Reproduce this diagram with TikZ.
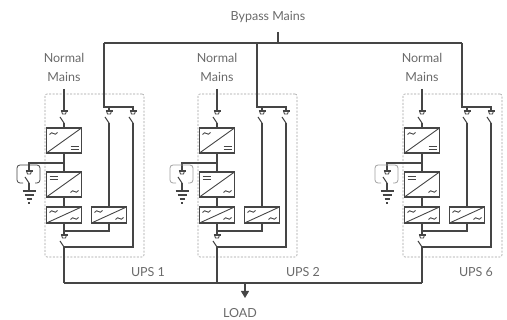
\documentclass[tikz,border=0pt]{standalone}
\usepackage{fontspec}
\setmainfont{Lato}
\usetikzlibrary{positioning}
\usetikzlibrary{calc}
\usetikzlibrary{arrows.meta}
\definecolor{wirec}{HTML}{454545}
\definecolor{txtc}{HTML}{6A6A6A}
\definecolor{framec}{HTML}{A0A0A0}
\newcommand{\acsym}[1]{\draw[symline] ($(#1)+(-4,1)$) .. controls +(3,-5) and +(-3,5) .. ($(#1)+(4,-1)$);}
\newcommand{\dcsym}[1]{\draw[symline] ($(#1)+(-4,-1.5)$) -- ++(8,0) ($(#1)+(-4,1.5)$) -- ++(8,0);}
\newcommand{\convsym}[3]{%
  \draw[symline] (path picture bounding box.south west) -- (path picture bounding box.north east);
  \coordinate (pa) at ($(path picture bounding box.north west)+(7,#3)$);
  \coordinate (pb) at ($(path picture bounding box.south east)+(-7,-#3)$);
  #1{pa} #2{pb}}
\tikzset{wire/.style={draw=wirec, line width=1.1pt}}
\tikzset{symline/.style={draw=wirec, line width=0.9pt}}
\tikzset{conv/.style={draw=wirec, line width=1.1pt, minimum width=35pt, minimum height=25pt, inner sep=0pt, outer sep=0pt}}
\tikzset{acdc/.style={conv, path picture={\convsym{\acsym}{\dcsym}{5.5}}}}
\tikzset{dcac/.style={conv, path picture={\convsym{\dcsym}{\acsym}{5.5}}}}
\tikzset{acac/.style={conv, minimum height=16pt, path picture={\convsym{\acsym}{\acsym}{4.5}}}}
\tikzset{unitbox/.style={draw=framec, dash pattern=on 2pt off 1.5pt, rounded corners=2pt, line width=0.6pt, minimum width=99pt, minimum height=163pt, inner sep=0pt}}
\tikzset{lbl/.style={text=txtc, font=\fontsize{12.5}{19}\selectfont, align=center, inner sep=1pt}}
\tikzset{brk/.pic={
  \draw[wire] (-3.5,0) -- (3.5,0);
  \draw[wire, line width=0.8pt] (-2.5,0) -- (-1.5,3) -- (1.5,3) -- (2.5,0);
  \draw[wire] (-4,6) -- (0,12);
}}
\tikzset{earth/.pic={
  \draw[wire] (-6.5,0) -- (6.5,0);
  \draw[wire] (-4.5,4) -- (4.5,4);
  \draw[wire] (-2.5,8) -- (2.5,8);
  \draw[wire] (-1,12) -- (1,12);
}}

\begin{document}
\begin{tikzpicture}[x=1pt, y=-1pt]
\useasboundingbox (0,0) rectangle (507,320);

\foreach \n/\o/\lx/\bc in {1/0/148/wirec, 2/153/150/framec, 6/358/118/framec}{
\begin{scope}[xshift=\o]
\node[unitbox] (box\n) at (94.5,175.5) {};
\node[lbl] (nm\n) at (64,67) {Normal\\Mains};
\node[lbl] (ul\n) at (\lx,272) {UPS \n};
\node[acdc] (rec\n) at (64,140.5) {};
\node[dcac, below=19pt of rec\n] (inv\n) {};
\node[acac, below=10pt of inv\n] (sts\n) {};
\node[acac, right=10pt of sts\n] (byc\n) {};

\coordinate (ni\n) at (64,89);
\coordinate (si\n) at (64,111);
\coordinate (sib\n) at (64,123);
\coordinate (bd\n) at (104,43);
\coordinate (bh\n) at (104,107);
\coordinate (ba\n) at (109,111);
\coordinate (bab\n) at (109,123);
\coordinate (bb\n) at (133,111);
\coordinate (bbb\n) at (133,123);
\coordinate (bat\n) at (64,163);
\coordinate (bk\n) at (29,171);
\coordinate (bkb\n) at (29,183);
\coordinate (gnd\n) at (29,191);
\coordinate (jo\n) at (64,231);
\coordinate (so\n) at (64,235);
\coordinate (sob\n) at (64,247);
\coordinate (out\n) at (64,283);

\draw[wire] (ni\n) -- (si\n);
\pic at (si\n) {brk};
\draw[wire] (sib\n) -- (rec\n);
\draw[wire] (rec\n) -- (inv\n);
\draw[wire] (inv\n) -- (sts\n);
% battery
\draw[wire] (bat\n) -| (bk\n);
\pic at (bk\n) {brk};
\draw[wire] (bkb\n) -- (gnd\n);
\pic at (gnd\n) {earth};
\draw[draw=\bc, line width=0.8pt, rounded corners=3pt] (23,183) -- (17,183) -- (17,165) -- (40,165) -- (40,183) -- (35,183);
% bypass
\draw[wire] (bd\n) -- (bh\n) -- (bh\n -| bb\n) -- (bb\n);
\draw[wire] (bh\n -| ba\n) -- (ba\n);
\pic at (ba\n) {brk};
\pic at (bb\n) {brk};
\draw[wire] (bab\n) -- (byc\n);
\draw[wire] (bbb\n) |- (sob\n);
% output
\draw[wire] (sts\n) -- (jo\n) -- (jo\n -| byc\n) -- (byc\n);
\draw[wire] (jo\n) -- (so\n);
\pic at (so\n) {brk};
\draw[wire] (sob\n) -- (out\n);
\end{scope}
}

\node[lbl] (bpm) at (268,17) {Bypass Mains};
\coordinate (bpin) at (278,32);
\coordinate (bpbus) at (278,43);
\draw[wire] (bpin) -- (bpbus);
\draw[wire] (bd1) -- (bd6);
\draw[wire] (out1) -- (out6);

\coordinate (ld) at (245,283);
\coordinate (ldtip) at (245,298);
\draw[wire, -{Triangle[length=7pt, width=8pt]}] (ld) -- (ldtip);
\node[lbl] (load) at (240,313) {LOAD};
\end{tikzpicture}
\end{document}
